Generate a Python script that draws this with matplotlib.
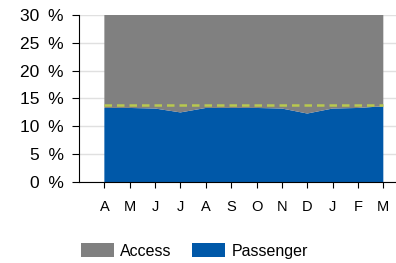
import matplotlib
matplotlib.use("Agg")
import matplotlib.pyplot as plt
from matplotlib.patches import Patch

months = ["A", "M", "J", "J", "A", "S", "O", "N", "D", "J", "F", "M"]
passenger = [13.3, 13.3, 13.2, 12.5, 13.3, 13.3, 13.3, 13.2, 12.3, 13.2, 13.3, 13.6]
total = [30.0] * 12
access = [t - p for t, p in zip(total, passenger)]
target = [13.9] * 12
yticks = [0, 5, 10, 15, 20, 25, 30]

plt.rcParams['font.family'] = ['Liberation Sans', 'DejaVu Sans']

fig = plt.figure(figsize=(3.96, 2.63), dpi=100)
ax = fig.add_axes([79/396, 81/263, (396-79)/396, 167/263])

x = list(range(len(months)))
ax.stackplot(x, passenger, access, colors=["#0058A8", "#808080"], linewidth=0, zorder=2)
ax.plot(x, target, color="#B8C94E", linestyle=(0, (3, 2)), linewidth=1.8, zorder=3)

ax.set_xlim(-1, 11.5)
ax.set_ylim(0, 30)
ax.set_yticks(yticks)
ax.set_yticklabels([f"{v}\u2002%" for v in yticks], fontsize=12.5)
ax.set_xticks(x)
ax.set_xticklabels(months, fontsize=10.5)
ax.yaxis.grid(True, color="#e0e0e0", linewidth=1, zorder=0)
ax.set_axisbelow(True)
for s in ["top", "right"]:
    ax.spines[s].set_visible(False)
ax.spines["left"].set_color("black")
ax.spines["bottom"].set_color("black")
ax.tick_params(axis="y", length=5, pad=6, colors="black")
ax.tick_params(axis="x", length=4, pad=9, colors="black")

handles = [Patch(facecolor="#808080", label="Access"), Patch(facecolor="#0058A8", label="Passenger")]
fig.legend(handles=handles, loc="center left", bbox_to_anchor=(81/396, 1 - 251/263), ncol=2,
           frameon=False, fontsize=11.5, handlelength=2.07, handleheight=0.88,
           columnspacing=1.3, handletextpad=0.38, borderpad=0, borderaxespad=0)

fig.savefig("out.png", dpi=100)
